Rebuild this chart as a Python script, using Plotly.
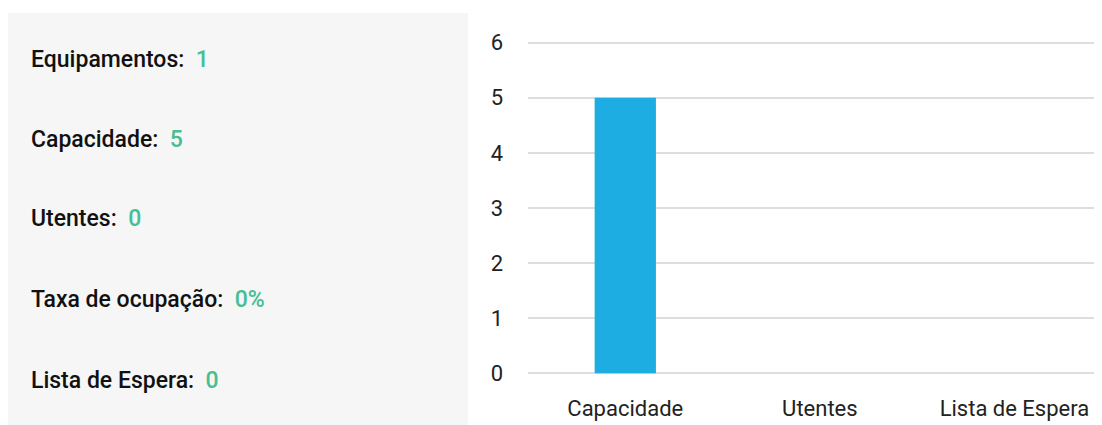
import plotly.graph_objects as go

# chart data
categories = ['Capacidade', 'Utentes', 'Lista de Espera']
values = [5, 0, 0]

# summary panel
summary_labels = ['Equipamentos', 'Capacidade', 'Utentes', 'Taxa de ocupação', 'Lista de Espera']
summary_values = ['1', '5', '0', '0%', '0']

W, H = 1094, 425
ML, MR, MT, MB = 520, 0, 33, 58
PW, PH = W - ML - MR, H - MT - MB

BAR_COLOR = '#1eade3'
VALUE_COLOR = '#45bf93'
PANEL_COLOR = '#f6f6f6'
FONT = 'Roboto'


def px_x(x):
    return (x - ML) / PW


def px_y(y):
    return 1 - (y - MT) / PH


fig = go.Figure()
fig.add_trace(go.Bar(
    x=categories, y=values, marker_color=BAR_COLOR, marker_line_width=0,
    width=0.315, hoverinfo='x+y',
))

# grey panel on the left
fig.add_shape(
    type='rect', xref='paper', yref='paper', layer='below',
    x0=px_x(0), x1=px_x(460), y0=px_y(H), y1=px_y(5),
    fillcolor=PANEL_COLOR, line_width=0,
)

row_y = [52, 131, 210, 291, 372]
for label, val, y in zip(summary_labels, summary_values, row_y):
    fig.add_annotation(
        xref='paper', yref='paper', x=px_x(21), y=px_y(y),
        xanchor='left', yanchor='middle', showarrow=False,
        text=f"{label}:&nbsp; <span style='color:{VALUE_COLOR}'>{val}</span>",
        font=dict(family=FONT, size=23, color='#111111', weight=500),
    )

fig.update_layout(
    width=W, height=H,
    margin=dict(l=ML, r=MR, t=MT, b=MB),
    paper_bgcolor='white', plot_bgcolor='white',
    showlegend=False,
    font=dict(family=FONT, size=22, color='#222222'),
)
fig.update_xaxes(range=[-0.5, 2.45], showgrid=False, zeroline=False,
                 showline=False, ticks='', ticklabelstandoff=18, fixedrange=True)
fig.update_yaxes(range=[-0.03, 6.03], tickvals=[0, 1, 2, 3, 4, 5, 6],
                 showgrid=True, gridcolor='#dddddd', gridwidth=2,
                 zeroline=False, showline=False,
                 ticklabelstandoff=24, fixedrange=True)

fig.write_html('out.html')
